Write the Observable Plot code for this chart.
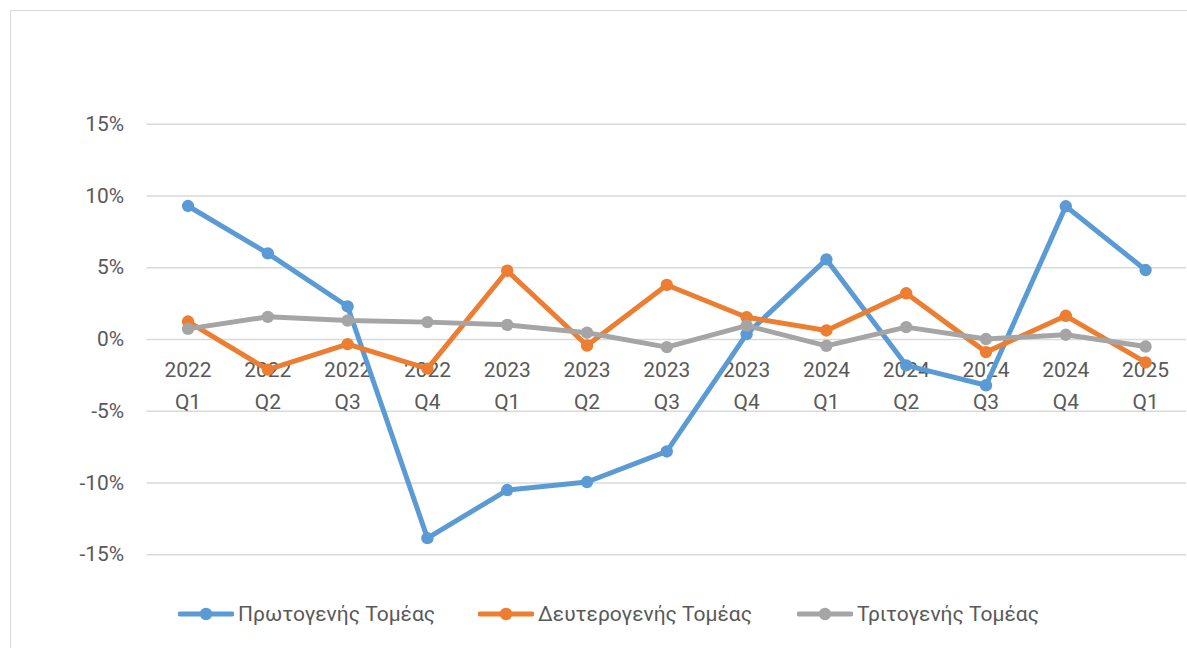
<!DOCTYPE html>
<html>
<head>
<meta charset="utf-8">
<script src="https://cdn.jsdelivr.net/npm/d3@7"></script>
<script src="https://cdn.jsdelivr.net/npm/@observablehq/plot@0.6"></script>
<style>
  html, body { margin: 0; padding: 0; background: #fff; overflow: hidden; width: 1187px; height: 648px; }
  #frame { position: absolute; left: 10px; top: 10px; width: 1400px; height: 900px; border: 1px solid #d9d9d9; box-sizing: border-box; }
  #chart { position: absolute; left: 0; top: 0; }
  #legend { position: absolute; top: 598px; left: 0; height: 32px; font-family: Roboto, sans-serif; font-size: 21px; color: #595959; }
  .item { position: absolute; top: 0; display: flex; align-items: center; height: 32px; white-space: nowrap; }
  .item svg { margin-right: 4px; }
</style>
</head>
<body>
<div id="frame"></div>
<div id="chart"></div>
<div id="legend"></div>
<script>
const quarters = ["2022 Q1","2022 Q2","2022 Q3","2022 Q4","2023 Q1","2023 Q2","2023 Q3","2023 Q4","2024 Q1","2024 Q2","2024 Q3","2024 Q4","2025 Q1"];
const seriesNames = ["Πρωτογενής Τομέας", "Δευτερογενής Τομέας", "Τριτογενής Τομέας"];
const seriesColors = ["#5B9BD5", "#ED7D31", "#A5A5A5"];
const primary   = [9.3, 6.0, 2.3, -13.84, -10.49, -9.93, -7.8, 0.37, 5.58, -1.8, -3.19, 9.28, 4.84];
const secondary = [1.25, -2.1, -0.32, -2.03, 4.79, -0.42, 3.8, 1.55, 0.63, 3.22, -0.88, 1.65, -1.6];
const tertiary  = [0.74, 1.58, 1.32, 1.21, 1.02, 0.47, -0.53, 0.97, -0.44, 0.86, 0.03, 0.33, -0.49];
const yTicks = [-15, -10, -5, 0, 5, 10, 15];

const allSeries = [primary, secondary, tertiary];
const data = [];
allSeries.forEach((vals, s) => vals.forEach((v, i) => data.push({q: quarters[i], v: v / 100, s: seriesNames[s]})));
const labels = quarters.map(q => ({q, year: q.split(" ")[0], qtr: q.split(" ")[1]}));

const font = "Roboto, sans-serif";
const plot = Plot.plot({
  width: 1190,
  height: 580,
  marginLeft: 147,
  marginRight: 1,
  marginTop: 124,
  marginBottom: 24.3,
  style: {fontFamily: font, fontSize: "21px", color: "#595959", background: "transparent", overflow: "visible"},
  x: {type: "point", domain: quarters, padding: 0.5, axis: null},
  y: {domain: [-0.15, 0.15], axis: null},
  color: {domain: seriesNames, range: seriesColors},
  marks: [
    Plot.ruleY(yTicks.map(t => t / 100), {stroke: "#d9d9d9", strokeWidth: 1.4}),
    Plot.text(yTicks.map(t => t / 100), {y: d => d, frameAnchor: "left", dx: -23, textAnchor: "end", text: d => Math.round(d * 100) + "%", fill: "#595959", fontSize: 21}),
    Plot.text(labels, {x: "q", y: 0, text: "year", dy: 31, fill: "#595959", fontSize: 21}),
    Plot.text(labels, {x: "q", y: 0, text: "qtr", dy: 63, fill: "#595959", fontSize: 21}),
    Plot.line(data, {x: "q", y: "v", z: "s", stroke: "s", strokeWidth: 5, strokeLinejoin: "round", strokeLinecap: "round"}),
    Plot.dot(data, {x: "q", y: "v", fill: "s", r: 6.2, stroke: null})
  ]
});
document.getElementById("chart").appendChild(plot);

const legend = document.getElementById("legend");
const lefts = [178, 478, 797];
seriesNames.forEach((name, i) => {
  const item = document.createElement("div");
  item.className = "item";
  item.style.left = lefts[i] + "px";
  item.innerHTML = `<svg width="56" height="14"><line x1="2" y1="7" x2="54" y2="7" stroke="${seriesColors[i]}" stroke-width="5" stroke-linecap="round"/><circle cx="28" cy="7" r="6.2" fill="${seriesColors[i]}"/></svg>`;
  const span = document.createElement("span");
  span.textContent = name;
  item.appendChild(span);
  legend.appendChild(item);
});
</script>
</body>
</html>
